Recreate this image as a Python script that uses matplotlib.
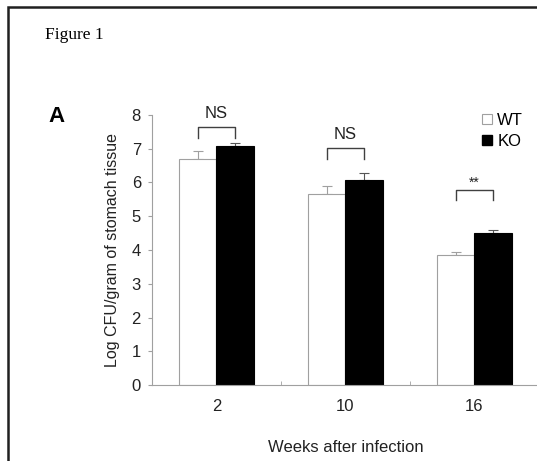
import matplotlib.pyplot as plt
import numpy as np
from matplotlib.patches import Rectangle, Patch

weeks = ['2', '10', '16']
wt_mean = [6.69, 5.65, 3.85]
wt_err = [0.25, 0.25, 0.08]
ko_mean = [7.08, 6.08, 4.51]
ko_err = [0.10, 0.19, 0.07]
sig = ['NS', 'NS', '**']
bracket_y = [7.63, 7.01, 5.78]

plt.rcParams['font.family'] = ['Liberation Sans', 'DejaVu Sans']

W, H = 537, 461
fig = plt.figure(figsize=(W / 100, H / 100), dpi=100)
ax = fig.add_axes([152 / W, (H - 385) / H, 387 / W, 270 / H])

x = np.arange(len(weeks)) + 0.5
w = 0.287
gray = '#a0a0a0'

ax.bar(x - w / 2, wt_mean, w, color='white', edgecolor=gray, linewidth=0.8, label='WT', zorder=2)
ax.bar(x + w / 2, ko_mean, w, color='black', edgecolor='black', linewidth=0.8, label='KO', zorder=2)
ax.errorbar(x - w / 2, wt_mean, yerr=[np.zeros(3), wt_err], fmt='none', ecolor=gray,
            elinewidth=0.8, capsize=3.5, capthick=0.8, zorder=1)
ax.errorbar(x + w / 2, ko_mean, yerr=[np.zeros(3), ko_err], fmt='none', ecolor='#555555',
            elinewidth=0.8, capsize=3.5, capthick=0.8, zorder=1)

# significance brackets
for xi, yb, s in zip(x, bracket_y, sig):
    ax.plot([xi - w / 2, xi - w / 2, xi + w / 2, xi + w / 2],
            [yb - 0.3, yb, yb, yb - 0.3], color='#404040', lw=1.0, clip_on=False)
    if s == 'NS':
        ax.text(xi, yb + 0.42, s, ha='center', va='center', fontsize=12, color='#222222')
    else:
        ax.text(xi, yb + 0.22, s, ha='center', va='center', fontsize=10, color='#222222')

ax.set_xlim(0, 3)
ax.set_ylim(0, 8)
ax.set_yticks(range(9))
ax.set_xticks(x)
ax.set_xticklabels(weeks)
ax.set_xticks([1, 2], minor=True)
ax.tick_params(axis='x', which='major', length=0, labelsize=12, pad=10, colors='#222222')
ax.tick_params(axis='x', which='minor', direction='in', length=3, color=gray)
ax.tick_params(axis='y', length=3, color=gray, labelsize=12, labelcolor='#222222', pad=5)
for s in ['top', 'right']:
    ax.spines[s].set_visible(False)
for s in ['left', 'bottom']:
    ax.spines[s].set_color(gray)
    ax.spines[s].set_linewidth(0.8)

ax.set_ylabel('Log CFU/gram of stomach tissue', fontsize=11.5, color='#222222', labelpad=8)
ax.set_xlabel('Weeks after infection', fontsize=12, color='#222222', labelpad=19)

handles = [Patch(facecolor='white', edgecolor=gray, linewidth=0.8, label='WT'),
           Patch(facecolor='black', edgecolor='black', label='KO')]
fig.legend(handles=handles, loc='upper left', bbox_to_anchor=(474 / W, 1 - 105 / H),
           frameon=False, fontsize=12, handlelength=0.55, handleheight=0.55,
           handletextpad=0.35, labelspacing=0.35, borderpad=0)

fig.text(45 / W, 1 - 35 / H, 'Figure 1', family=['Liberation Serif', 'DejaVu Serif'],
         fontsize=12.5, va='center', ha='left')
fig.text(48 / W, 1 - 116 / H, 'A', fontsize=16, fontweight='bold', va='center', ha='left')

fig.add_artist(Rectangle((8 / W, -0.2), 1.2, 1.2 - 7 / H, transform=fig.transFigure,
                         fill=False, edgecolor='#202020', linewidth=1.8))

fig.savefig('out.png', dpi=100)
